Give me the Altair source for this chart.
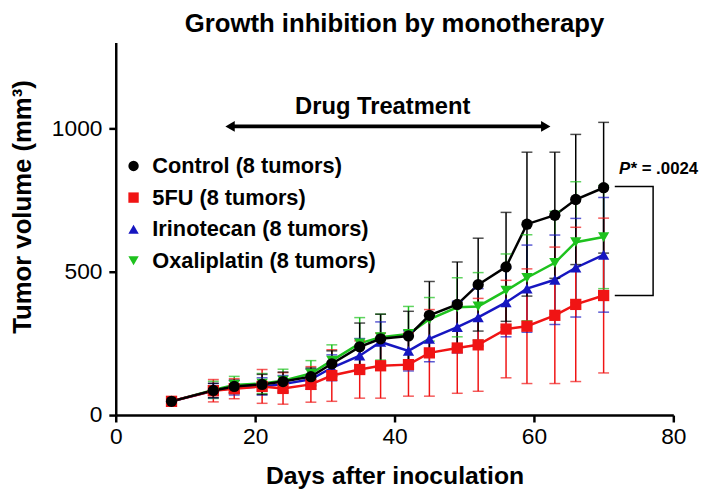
import altair as alt
import pandas as pd

# ---------------- data ----------------
days = [8, 14, 17, 21, 24, 28, 31, 35, 38, 42, 45, 49, 52, 56, 59, 63, 66, 70]

series_names = ["Control (8 tumors)", "5FU (8 tumors)",
                "Irinotecan (8 tumors)", "Oxaliplatin (8 tumors)"]
series_colors = ["#000000", "#f01414", "#1616c0", "#1ec21e"]
series_shapes = ["circle", "square", "triangle-up", "triangle-down"]

control_mean = [48, 86, 100, 107, 117, 134, 179, 238, 266, 276, 348, 386, 455, 517, 666, 697, 752, 793]
control_sd = [15, 25, 22, 35, 33, 30, 45, 83, 86, 86, 118, 148, 162, 190, 251, 220, 227, 228]

fu_mean = [48, 85, 92, 100, 93, 107, 138, 159, 172, 176, 217, 234, 245, 300, 310, 348, 386, 417]
fu_sd = [15, 39, 35, 59, 55, 62, 90, 100, 113, 110, 151, 158, 162, 170, 200, 238, 269, 270]

iri_mean = [48, 85, 95, 100, 108, 125, 165, 207, 255, 224, 266, 307, 341, 393, 441, 472, 514, 559]
iri_sd = [15, 25, 25, 30, 30, 35, 45, 60, 70, 70, 80, 90, 100, 120, 152, 156, 172, 200]

oxa_mean = [48, 88, 105, 110, 120, 145, 190, 250, 272, 283, 334, 376, 379, 434, 479, 531, 603, 621]
oxa_sd = [15, 30, 30, 35, 40, 45, 55, 90, 80, 96, 76, 103, 118, 128, 150, 180, 211, 180]

means = [control_mean, fu_mean, iri_mean, oxa_mean]
sds = [control_sd, fu_sd, iri_sd, oxa_sd]

# annotations
treat_label = "Drug Treatment"
treat_start, treat_end, treat_level = 15.7, 62.4, 1007
treat_text_day, treat_text_level = 38.3, 1076
p_day, p_level = 71.2, 858
p_star, p_value = "P*", "= .0024"
bracket_days = [71.6, 77.1, 77.1, 71.6]
bracket_levels = [797, 797, 417, 417]

x_ticks = [0, 20, 40, 60, 80]
y_ticks = [0, 500, 1000]

FONT = "Liberation Sans"

# ---------------- tables ----------------
rows = []
for i in [3, 2, 1, 0]:
    for d, m, s in zip(days, means[i], sds[i]):
        rows.append({"series": series_names[i], "day": d, "mean": m,
                     "lo": m - s, "hi": m + s})
df = pd.DataFrame(rows)

xs = alt.Scale(domain=[0, 80], nice=False)
ys = alt.Scale(domain=[0, 1300], nice=False)
cscale = alt.Scale(domain=series_names, range=series_colors)
sscale = alt.Scale(domain=series_names, range=series_shapes)
color_enc = alt.Color("series:N", scale=cscale, title=None)

X = alt.X("day:Q", scale=xs, axis=alt.Axis(values=x_ticks, title="Days after inoculation",
                                           labelPadding=4, labelFlush=False,
                                           titleY=69, titleBaseline="alphabetic"))
Y = alt.Y("mean:Q", scale=ys, axis=alt.Axis(values=y_ticks, title="Tumor volume (mm³)", format="d",
                                            labelPadding=7, titleX=-81, titleY=166,
                                            titleFontSize=26))

base = alt.Chart(df)

err = base.mark_rule(strokeWidth=1.5).encode(
    x=alt.X("day:Q", scale=xs), y=alt.Y("lo:Q", scale=ys), y2="hi:Q", color=color_enc)
cap_hi = base.mark_tick(orient="horizontal", size=11, thickness=1.5).encode(
    x=alt.X("day:Q", scale=xs), y=alt.Y("hi:Q", scale=ys), color=color_enc)
cap_lo = base.mark_tick(orient="horizontal", size=11, thickness=1.5).encode(
    x=alt.X("day:Q", scale=xs), y=alt.Y("lo:Q", scale=ys), color=color_enc)
lines = base.mark_line(strokeWidth=2.5).encode(
    x=X, y=Y, color=color_enc, detail="series:N")
points = base.mark_point(filled=True, opacity=1, size=130).encode(
    x=alt.X("day:Q", scale=xs), y=alt.Y("mean:Q", scale=ys),
    color=color_enc,
    shape=alt.Shape("series:N", scale=sscale, title=None),
)

# drug treatment arrow
arrow_df = pd.DataFrame({"a": [treat_start + 0.9], "b": [treat_end - 0.9], "y": [treat_level]})
arrow_line = alt.Chart(arrow_df).mark_rule(strokeWidth=4, color="black").encode(
    x=alt.X("a:Q", scale=xs), x2="b:Q", y=alt.Y("y:Q", scale=ys))
head_l = alt.Chart(pd.DataFrame({"x": [treat_start + 0.7], "y": [treat_level]})).mark_point(
    filled=True, opacity=1, color="black", size=120, shape="triangle-left").encode(
    x=alt.X("x:Q", scale=xs), y=alt.Y("y:Q", scale=ys))
head_r = alt.Chart(pd.DataFrame({"x": [treat_end - 0.7], "y": [treat_level]})).mark_point(
    filled=True, opacity=1, color="black", size=120, shape="triangle-right").encode(
    x=alt.X("x:Q", scale=xs), y=alt.Y("y:Q", scale=ys))
treat_txt = alt.Chart(pd.DataFrame({"x": [treat_text_day], "y": [treat_text_level], "t": [treat_label]})).mark_text(
    font=FONT, fontSize=24, fontWeight="bold", color="black").encode(
    x=alt.X("x:Q", scale=xs), y=alt.Y("y:Q", scale=ys), text="t:N")

# p value + bracket
p1 = alt.Chart(pd.DataFrame({"x": [p_day], "y": [p_level], "t": [p_star]})).mark_text(
    font=FONT, fontSize=17, fontWeight="bold", fontStyle="italic", align="left", dx=7, color="black").encode(
    x=alt.X("x:Q", scale=xs), y=alt.Y("y:Q", scale=ys), text="t:N")
p2 = alt.Chart(pd.DataFrame({"x": [p_day], "y": [p_level], "t": [p_value]})).mark_text(
    font=FONT, fontSize=17, fontWeight="bold", align="left", dx=30, color="black").encode(
    x=alt.X("x:Q", scale=xs), y=alt.Y("y:Q", scale=ys), text="t:N")
br_df = pd.DataFrame({"x": bracket_days, "y": bracket_levels, "o": [0, 1, 2, 3]})
bracket = alt.Chart(br_df).mark_line(strokeWidth=1.5, color="black").encode(
    x=alt.X("x:Q", scale=xs), y=alt.Y("y:Q", scale=ys), order="o:Q")

chart = alt.layer(
    lines, err, cap_hi, cap_lo, points, arrow_line, head_l, head_r, treat_txt, p1, p2, bracket
).properties(
    width=564, height=377,
    autosize=alt.AutoSizeParams(type="none"),
    padding={"left": 109, "top": 32, "right": 28, "bottom": 73},
    title=alt.TitleParams("Growth inhibition by monotherapy", font=FONT, fontSize=26,
                          fontWeight="bold", color="black", anchor="middle", offset=6),
).configure_view(stroke=None).configure_axis(
    domainColor="black", domainWidth=2.5, tickColor="black", tickWidth=2.5, tickSize=7,
    labelFont=FONT, labelFontSize=23, labelColor="black", grid=False,
    titleFont=FONT, titleFontSize=25, titleFontWeight="bold", titleColor="black",
).configure_legend(
    orient="none", legendX=7, legendY=114, padding=0,
    labelFont=FONT, labelFontSize=22, labelFontWeight="bold", labelColor="black",
    labelLimit=400, symbolSize=110, symbolStrokeWidth=0, symbolOpacity=1,
    rowPadding=10, labelOffset=8,
)

chart.save("out.html", embed_options={"renderer": "svg", "actions": False})
